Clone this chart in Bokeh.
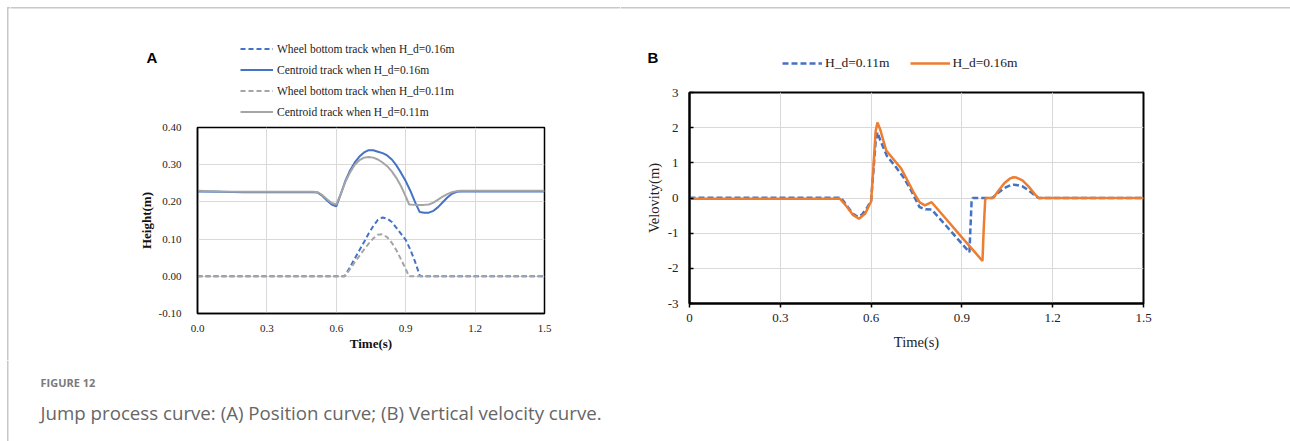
from bokeh.plotting import figure
from bokeh.models import (Legend, LegendItem, BoxAnnotation, FixedTicker, Range1d,
                          NumeralTickFormatter)
from bokeh.layouts import row, column
from bokeh.core.properties import value
from bokeh.embed import file_html
from bokeh.resources import INLINE

NaN = float("nan")

# ---------------- Panel A data: height (m) vs time (s) ----------------
t_cent_016 = [0, 0.1, 0.2, 0.3, 0.4, 0.5, 0.52, 0.54, 0.56, 0.58, 0.60, 0.62, 0.64, 0.66, 0.68,
              0.70, 0.72, 0.74, 0.76, 0.78, 0.80, 0.82, 0.84, 0.86, 0.88, 0.90, 0.92, 0.94, 0.96,
              0.98, 1.00, 1.02, 1.04, 1.06, 1.08, 1.10, 1.12, 1.14, 1.2, 1.3, 1.4, 1.5]
h_cent_016 = [0.228, 0.227, 0.226, 0.226, 0.226, 0.226, 0.225, 0.216, 0.204, 0.193, 0.188, 0.222,
              0.258, 0.285, 0.306, 0.322, 0.333, 0.339, 0.339, 0.335, 0.331, 0.325, 0.314, 0.298,
              0.278, 0.256, 0.230, 0.200, 0.173, 0.171, 0.171, 0.176, 0.186, 0.199, 0.212, 0.222,
              0.227, 0.228, 0.228, 0.228, 0.228, 0.228]

t_cent_011 = [0, 0.1, 0.2, 0.3, 0.4, 0.5, 0.52, 0.54, 0.56, 0.58, 0.60, 0.62, 0.64, 0.66, 0.68,
              0.70, 0.72, 0.74, 0.76, 0.78, 0.80, 0.82, 0.84, 0.86, 0.88, 0.90, 0.915, 0.94, 0.96,
              0.98, 1.00, 1.02, 1.04, 1.06, 1.08, 1.10, 1.12, 1.14, 1.2, 1.3, 1.4, 1.5]
h_cent_011 = [0.230, 0.228, 0.227, 0.227, 0.227, 0.227, 0.226, 0.218, 0.207, 0.197, 0.193, 0.222,
              0.255, 0.280, 0.300, 0.312, 0.319, 0.321, 0.319, 0.314, 0.306, 0.296, 0.282, 0.264,
              0.242, 0.215, 0.193, 0.192, 0.192, 0.192, 0.193, 0.198, 0.206, 0.214, 0.221, 0.226,
              0.229, 0.230, 0.230, 0.230, 0.230, 0.230]

t_wheel_016 = [0, 0.636, 0.66, 0.68, 0.70, 0.72, 0.74, 0.76, 0.78, 0.80, 0.82, 0.84, 0.86, 0.88,
               0.90, 0.92, 0.94, 0.962, 1.5]
h_wheel_016 = [0, 0, 0.025, 0.048, 0.070, 0.092, 0.115, 0.135, 0.152, 0.158, 0.155, 0.146, 0.130,
               0.114, 0.098, 0.072, 0.040, 0, 0]

t_wheel_011 = [0, 0.636, 0.66, 0.68, 0.70, 0.72, 0.74, 0.76, 0.78, 0.80, 0.82, 0.84, 0.86, 0.88,
               0.90, 0.914, 1.5]
h_wheel_011 = [0, 0, 0.020, 0.038, 0.055, 0.072, 0.088, 0.102, 0.112, 0.113, 0.105, 0.090, 0.070,
               0.045, 0.020, 0, 0]

# ---------------- Panel B data: vertical velocity vs time (s) ----------------
t_vel_011 = [0, 0.5, 0.52, 0.54, 0.555, 0.57, 0.585, 0.60, 0.607, 0.615, 0.621, 0.63, 0.652, 0.68,
             0.707, 0.73, 0.76, 0.78, 0.80, 0.85, 0.90, 0.925, 0.928, 0.932, 0.936, 1.0, 1.02,
             1.04, 1.06, 1.07, 1.08, 1.10, 1.12, 1.14, 1.153, 1.5]
v_vel_011 = [0.01, 0.01, -0.22, -0.45, -0.53, -0.47, -0.30, -0.08, 0.70, 1.60, 1.87, 1.65, 1.20,
             0.90, 0.59, 0.25, -0.26, -0.32, -0.33, -0.81, -1.30, -1.54, -0.90, -0.10, 0, 0, 0.15,
             0.28, 0.36, 0.38, 0.37, 0.33, 0.22, 0.08, 0, 0]

t_vel_016 = [0, 0.497, 0.52, 0.54, 0.56, 0.58, 0.60, 0.607, 0.615, 0.621, 0.63, 0.65, 0.70, 0.74,
             0.76, 0.778, 0.80, 0.85, 0.90, 0.95, 0.968, 0.972, 0.977, 0.98, 1.004, 1.02, 1.04,
             1.06, 1.07, 1.08, 1.10, 1.12, 1.14, 1.153, 1.5]
v_vel_016 = [-0.02, -0.02, -0.25, -0.48, -0.59, -0.45, -0.10, 0.80, 1.90, 2.15, 1.95, 1.35, 0.83,
             0.17, -0.12, -0.21, -0.12, -0.62, -1.12, -1.61, -1.79, -0.90, -0.05, 0, 0, 0.20, 0.42,
             0.56, 0.59, 0.58, 0.50, 0.33, 0.12, 0, 0]

# ---------------- ticks / labels / texts ----------------
xticks = [0, 0.3, 0.6, 0.9, 1.2, 1.5]
xlabels_A = ["0.0", "0.3", "0.6", "0.9", "1.2", "1.5"]
xlabels_B = ["0", "0.3", "0.6", "0.9", "1.2", "1.5"]
yticks_A = [-0.1, 0.0, 0.1, 0.2, 0.3, 0.4]
ylabels_A = ["-0.10", "0.00", "0.10", "0.20", "0.30", "0.40"]
yticks_B = [-3, -2, -1, 0, 1, 2, 3]
ylabels_B = ["-3", "-2", "-1", "0", "1", "2", "3"]

legend_A = ["Wheel bottom track when H_d=0.16m", "Centroid track when H_d=0.16m",
            "Wheel bottom track when H_d=0.11m", "Centroid track when H_d=0.11m"]
legend_B = ["H_d=0.11m", "H_d=0.16m"]
fig_label = "FIGURE 12"
caption = "Jump process curve: (A) Position curve; (B) Vertical velocity curve."

BLUE, GRAY, ORANGE = "#4472C4", "#A5A5A5", "#ED7D31"
SERIF = "Liberation Serif"
FRAME_GRAY = "#c8c8c8"


def overrides(ticks, labels):
    return {float(v): l for v, l in zip(ticks, labels)}


# ---------------- layout geometry (page pixels) ----------------
TOP_A, TOP_B, MAIN_BOTTOM, PAGE_H = 120, 80, 360, 441
LEFT_W, W_A, W_B = 10, 610, 670


def no_align(p):
    if "frame_align" in p.properties():
        p.frame_align = False


def strip(x0, x1, y0, y1):
    """A bare figure whose data coordinates equal page pixel coordinates."""
    p = figure(width=x1 - x0, height=y1 - y0, output_backend="svg", toolbar_location=None,
               x_range=Range1d(x0, x1), y_range=Range1d(y1, y0),
               x_axis_type=None, y_axis_type=None, min_border=0)
    p.outline_line_color = None
    p.grid.visible = False
    p.background_fill_color = "white"
    p.border_fill_color = "white"
    no_align(p)
    return p


def hband(p, x0, x1, y0, y1):
    p.add_layout(BoxAnnotation(left=x0, right=x1, top=y0, bottom=y1, fill_color=FRAME_GRAY,
                               fill_alpha=1, line_color=None))


def chart(w, h, l, r, t, b, yr):
    p = figure(width=w, height=h, output_backend="svg", toolbar_location=None,
               x_range=Range1d(0, 1.5), y_range=Range1d(*yr),
               min_border_left=l, min_border_right=r, min_border_top=t, min_border_bottom=b)
    p.background_fill_color = "white"
    p.border_fill_color = "white"
    p.outline_line_color = "black"
    for g in (p.xgrid, p.ygrid):
        g.grid_line_color = "#d9d9d9"
        g.grid_line_width = 1
    no_align(p)
    return p


# ================= Left strip (page frame line) =================
sL = strip(0, LEFT_W, 0, MAIN_BOTTOM)
hband(sL, 6.5, 8, 6.5, MAIN_BOTTOM)
hband(sL, 6.5, LEFT_W, 6.5, 8)

# ================= Panel A =================
sA = strip(LEFT_W, LEFT_W + W_A, 0, TOP_A)
hband(sA, LEFT_W, LEFT_W + W_A, 6.5, 8)
sA.text(x=[146], y=[57], text=["A"], text_font=value("Liberation Sans"),
        text_font_style="bold", text_font_size="15px", text_color="black",
        text_baseline="alphabetic")
proxA = [sA.line([NaN], [NaN], line_color=BLUE, line_width=2, line_dash="5 3"),
         sA.line([NaN], [NaN], line_color=BLUE, line_width=2),
         sA.line([NaN], [NaN], line_color=GRAY, line_width=2, line_dash="5 3"),
         sA.line([NaN], [NaN], line_color=GRAY, line_width=2)]
legA = Legend(items=[LegendItem(label=legend_A[i], renderers=[r]) for i, r in enumerate(proxA)],
              location=(240 - LEFT_W, TOP_A - 119.1), orientation="vertical",
              border_line_color=None, background_fill_alpha=0, padding=0, margin=0,
              spacing=6, glyph_width=33, glyph_height=15, label_height=15, label_standoff=4,
              label_text_font=SERIF, label_text_font_size="11.5px", label_text_color="#222222")
sA.add_layout(legA, "center")

pA = chart(W_A, MAIN_BOTTOM - TOP_A, 197 - LEFT_W, 76, 127 - TOP_A, MAIN_BOTTOM - 313,
           (-0.1, 0.4))
pA.outline_line_width = 1.5
pA.xaxis.ticker = FixedTicker(ticks=xticks)
pA.xgrid.ticker = FixedTicker(ticks=xticks)
pA.yaxis.ticker = FixedTicker(ticks=yticks_A)
pA.ygrid.ticker = FixedTicker(ticks=yticks_A)
pA.xaxis.formatter = NumeralTickFormatter(format="0.0")
pA.yaxis.formatter = NumeralTickFormatter(format="0.00")
pA.xaxis.major_label_overrides = overrides(xticks, xlabels_A)
pA.yaxis.major_label_overrides = overrides(yticks_A, ylabels_A)
for ax in (pA.xaxis[0], pA.yaxis[0]):
    ax.axis_line_color = "black"
    ax.axis_line_width = 1.5
    ax.major_tick_line_color = None
    ax.minor_tick_line_color = None
    ax.major_label_text_font = SERIF
    ax.major_label_text_font_size = "11px"
    ax.major_label_text_color = "#222222"
    ax.axis_label_text_font = SERIF
    ax.axis_label_text_font_size = "13px"
    ax.axis_label_text_font_style = "bold"
    ax.axis_label_text_color = "#111111"
pA.xaxis.axis_label = "Time(s)"
pA.yaxis.axis_label = "Height(m)"
pA.xaxis.major_label_standoff = 5
pA.xaxis.axis_label_standoff = 1
pA.yaxis.major_label_standoff = 10
pA.yaxis.axis_label_standoff = 2

pA.line(t_wheel_016, h_wheel_016, line_color=BLUE, line_width=2, line_dash="5 3")
pA.line(t_cent_016, h_cent_016, line_color=BLUE, line_width=2)
pA.line(t_wheel_011, h_wheel_011, line_color=GRAY, line_width=2, line_dash="5 3")
pA.line(t_cent_011, h_cent_011, line_color=GRAY, line_width=2)

# ================= Panel B =================
X0B = LEFT_W + W_A
sB = strip(X0B, X0B + W_B, 0, TOP_B)
hband(sB, X0B, X0B + W_B, 6.5, 8)
sB.text(x=[647], y=[57], text=["B"], text_font=value("Liberation Sans"),
        text_font_style="bold", text_font_size="15px", text_color="black",
        text_baseline="alphabetic")
proxB = [sB.line([NaN], [NaN], line_color=BLUE, line_width=2.5, line_dash="6 3"),
         sB.line([NaN], [NaN], line_color=ORANGE, line_width=2.5)]
legB = Legend(items=[LegendItem(label=legend_B[i], renderers=[r]) for i, r in enumerate(proxB)],
              location=(782 - X0B, TOP_B - 73), orientation="horizontal",
              border_line_color=None, background_fill_alpha=0, padding=0, margin=0,
              spacing=20, glyph_width=40, glyph_height=20, label_height=20, label_standoff=3,
              label_text_font=SERIF, label_text_font_size="13.5px", label_text_color="#222222")
sB.add_layout(legB, "center")

pB = chart(W_B, MAIN_BOTTOM - TOP_B, 689 - X0B, 1290 - 1143, 92 - TOP_B, MAIN_BOTTOM - 303,
           (-3, 3))
pB.outline_line_width = 2
pB.xaxis.ticker = FixedTicker(ticks=xticks)
pB.xgrid.ticker = FixedTicker(ticks=xticks)
pB.yaxis.ticker = FixedTicker(ticks=yticks_B)
pB.ygrid.ticker = FixedTicker(ticks=yticks_B)
pB.xaxis.formatter = NumeralTickFormatter(format="0.[0]")
pB.yaxis.formatter = NumeralTickFormatter(format="0")
pB.xaxis.major_label_overrides = overrides(xticks, xlabels_B)
pB.yaxis.major_label_overrides = overrides(yticks_B, ylabels_B)
for ax in (pB.xaxis[0], pB.yaxis[0]):
    ax.axis_line_color = "black"
    ax.axis_line_width = 2
    ax.major_tick_line_color = "black"
    ax.major_tick_line_width = 1.5
    ax.minor_tick_line_color = None
    ax.major_label_text_font = SERIF
    ax.major_label_text_font_size = "13px"
    ax.major_label_text_color = "#222222"
    ax.axis_label_text_font = SERIF
    ax.axis_label_text_font_size = "14.5px"
    ax.axis_label_text_font_style = "normal"
    ax.axis_label_text_color = "#222222"
pB.xaxis.major_tick_in = 0
pB.xaxis.major_tick_out = 4
pB.yaxis.major_tick_in = 4
pB.yaxis.major_tick_out = 0
pB.xaxis.axis_label = "Time(s)"
pB.yaxis.axis_label = "Velovity(m)"
pB.xaxis.major_label_standoff = 6
pB.xaxis.axis_label_standoff = 9
pB.yaxis.major_label_standoff = 11
pB.yaxis.axis_label_standoff = 3

pB.line(t_vel_011, v_vel_011, line_color=BLUE, line_width=2.5, line_dash="6 3")
pB.line(t_vel_016, v_vel_016, line_color=ORANGE, line_width=2.5)

# ================= Caption strip =================
sC = strip(0, 1290, MAIN_BOTTOM, PAGE_H)
hband(sC, 6.5, 8, MAIN_BOTTOM, PAGE_H)
sC.text(x=[40], y=[381.5], text=[fig_label], text_font=value("Open Sans"),
        text_font_style="bold", text_font_size="11px", text_color="#7a7a7a",
        text_baseline="alphabetic")
sC.text(x=[40], y=[412], text=[caption], text_font=value("Open Sans"),
        text_font_size="18.7px", text_color="#666666", text_baseline="alphabetic")

layout = column(row(sL, column(sA, pA), column(sB, pB)), sC)
open("out.html", "w").write(file_html(layout, INLINE))
